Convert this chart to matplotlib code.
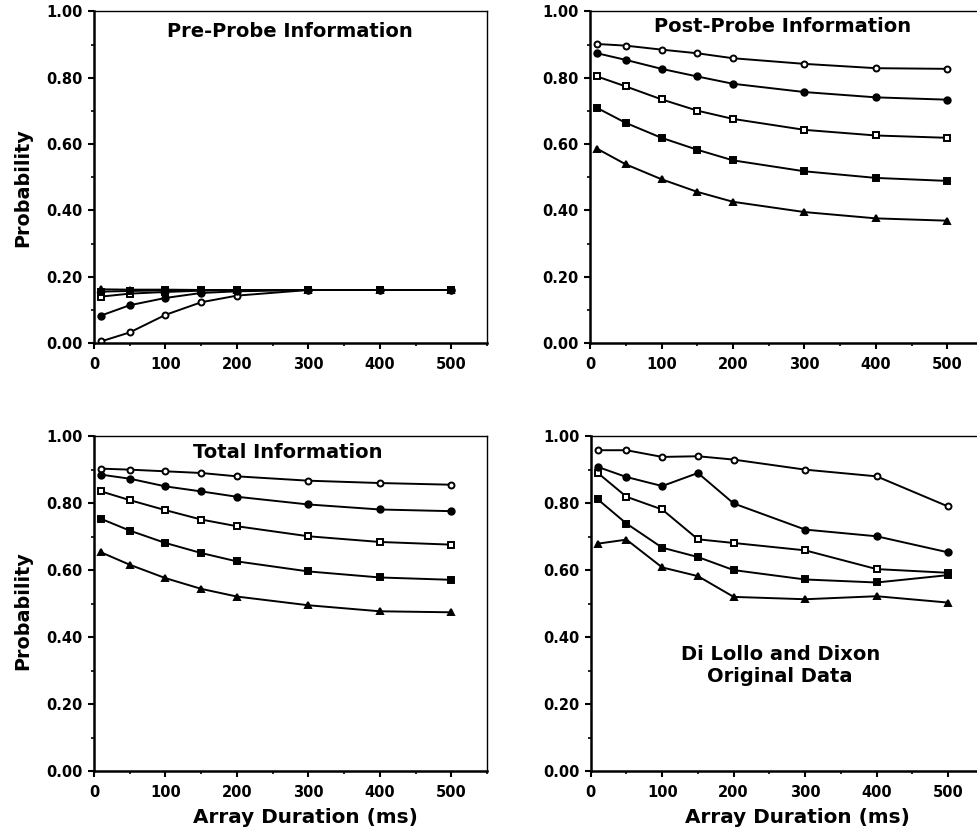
import matplotlib
matplotlib.use("Agg")
import matplotlib.pyplot as plt
from matplotlib.ticker import MultipleLocator, FormatStrFormatter

plt.rcParams['font.family'] = ['DejaVu Sans']

durations = [10, 50, 100, 150, 200, 300, 400, 500]

# Pre-Probe Information
pre_open_circle = [0.005, 0.032, 0.085, 0.123, 0.143, 0.160, 0.160, 0.160]
pre_filled_circle = [0.083, 0.114, 0.136, 0.151, 0.156, 0.160, 0.160, 0.160]
pre_open_square = [0.140, 0.149, 0.154, 0.158, 0.160, 0.160, 0.160, 0.160]
pre_filled_square = [0.155, 0.157, 0.159, 0.160, 0.160, 0.160, 0.160, 0.160]
pre_triangle = [0.162, 0.161, 0.161, 0.160, 0.160, 0.160, 0.160, 0.160]

# Post-Probe Information
post_open_circle = [0.902, 0.897, 0.885, 0.874, 0.859, 0.842, 0.829, 0.827]
post_filled_circle = [0.874, 0.854, 0.827, 0.804, 0.782, 0.757, 0.741, 0.734]
post_open_square = [0.804, 0.774, 0.735, 0.701, 0.676, 0.643, 0.626, 0.619]
post_filled_square = [0.709, 0.664, 0.619, 0.583, 0.551, 0.518, 0.498, 0.489]
post_triangle = [0.586, 0.539, 0.494, 0.456, 0.426, 0.395, 0.376, 0.369]

# Total Information
tot_open_circle = [0.903, 0.900, 0.895, 0.890, 0.880, 0.867, 0.860, 0.855]
tot_filled_circle = [0.885, 0.873, 0.850, 0.835, 0.819, 0.796, 0.781, 0.776]
tot_open_square = [0.835, 0.809, 0.779, 0.751, 0.731, 0.701, 0.684, 0.676]
tot_filled_square = [0.753, 0.718, 0.681, 0.651, 0.626, 0.596, 0.578, 0.571]
tot_triangle = [0.653, 0.616, 0.576, 0.544, 0.521, 0.495, 0.477, 0.474]

# Di Lollo and Dixon original data
dld_open_circle = [0.958, 0.958, 0.938, 0.940, 0.930, 0.900, 0.880, 0.790]
dld_filled_circle = [0.908, 0.878, 0.851, 0.890, 0.799, 0.721, 0.701, 0.653]
dld_open_square = [0.890, 0.819, 0.781, 0.692, 0.681, 0.659, 0.603, 0.592]
dld_filled_square = [0.811, 0.739, 0.667, 0.639, 0.600, 0.572, 0.563, 0.585]
dld_triangle = [0.679, 0.691, 0.608, 0.582, 0.520, 0.513, 0.522, 0.503]

yticks = [0.0, 0.2, 0.4, 0.6, 0.8, 1.0]
xticks = [0, 100, 200, 300, 400, 500]

# style per series: open circle, filled circle, open square, filled square, triangle
styles = [
    dict(marker='o', mfc='white', ms=4.3),
    dict(marker='o', mfc='black', ms=4.6),
    dict(marker='s', mfc='white', ms=4.3),
    dict(marker='s', mfc='black', ms=4.8),
    dict(marker='^', mfc='black', ms=5.0),
]
draw_order = [0, 2, 1, 4, 3]

panels = [
    ([0.0961, 0.5882, 0.402, 0.398], "Pre-Probe Information", (274, 0.94),
     [pre_open_circle, pre_filled_circle, pre_open_square, pre_filled_square, pre_triangle],
     0.47, None),
    ([0.6033, 0.5882, 0.402, 0.398], "Post-Probe Information", (270, 0.955),
     [post_open_circle, post_filled_circle, post_open_square, post_filled_square, post_triangle],
     None, None),
    ([0.0961, 0.0744, 0.402, 0.402], "Total Information", (271, 0.952),
     [tot_open_circle, tot_filled_circle, tot_open_square, tot_filled_square, tot_triangle],
     0.48, 0.537),
    ([0.6040, 0.0744, 0.402, 0.402], "Di Lollo and Dixon\nOriginal Data", (265, 0.315),
     [dld_open_circle, dld_filled_circle, dld_open_square, dld_filled_square, dld_triangle],
     None, 0.527),
]

fig = plt.figure(figsize=(9.78, 8.33), dpi=100)
for rect, title, tpos, series, ylab_y, xlab_x in panels:
    ax = fig.add_axes(rect)
    for i in draw_order:
        st = styles[i]
        ax.plot(durations, series[i], color='black', lw=1.4, marker=st['marker'],
                mfc=st['mfc'], mec='black', mew=1.4, ms=st['ms'])
    ax.set_xlim(0, 550)
    ax.set_ylim(0, 1.0)
    ax.set_xticks(xticks)
    ax.set_yticks(yticks)
    ax.xaxis.set_minor_locator(MultipleLocator(50))
    ax.yaxis.set_minor_locator(MultipleLocator(0.1))
    ax.yaxis.set_major_formatter(FormatStrFormatter('%.2f'))
    ax.tick_params(which='major', direction='out', length=4, width=1.5,
                   labelsize=10.5)
    ax.tick_params(which='minor', direction='out', length=2, width=1.2)
    for lab in ax.get_xticklabels() + ax.get_yticklabels():
        lab.set_fontweight('bold')
    ax.tick_params(axis='x', pad=6)
    ax.tick_params(axis='y', pad=4)
    for s in ['left', 'bottom']:
        ax.spines[s].set_linewidth(1.8)
    for s in ['top', 'right']:
        ax.spines[s].set_linewidth(1.0)
    ax.text(tpos[0], tpos[1], title, ha='center', va='center', fontsize=14,
            fontweight='bold', linespacing=1.15)
    if ylab_y is not None:
        ax.set_ylabel("Probability", fontsize=13.8, fontweight='bold', va='center')
        ax.yaxis.set_label_coords(-0.18, ylab_y)
    if xlab_x is not None:
        ax.set_xlabel("Array Duration (ms)", fontsize=14.4, fontweight='bold', va='center')
        ax.xaxis.set_label_coords(xlab_x, -0.14)

fig.savefig("out.png", dpi=100)
